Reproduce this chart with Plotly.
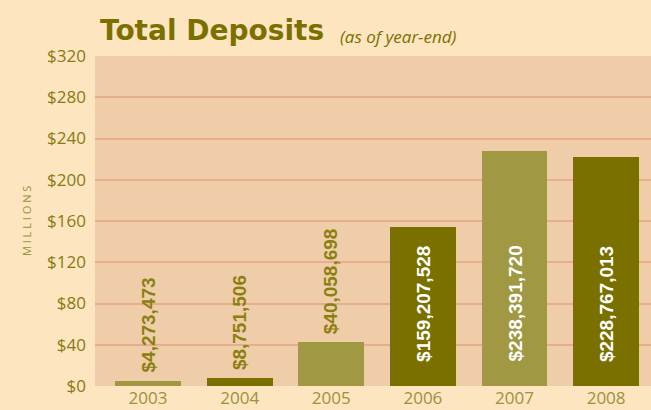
import plotly.graph_objects as go

years = ["2003", "2004", "2005", "2006", "2007", "2008"]
bar_heights = [4.9, 7.8, 42.7, 154.4, 228.0, 222.2]  # millions, as drawn
value_labels = ["$4,273,473", "$8,751,506", "$40,058,698",
                "$159,207,528", "$238,391,720", "$228,767,013"]
bar_colors = ["#A09843", "#7A7000", "#A09843", "#7A7000", "#A09843", "#7A7000"]
label_inside = [False, False, False, True, True, True]
y_ticks = [0, 40, 80, 120, 160, 200, 240, 280, 320]
y_tick_text = ["$" + str(v) for v in y_ticks]

PAPER = "#FDE5BF"
PLOT = "#F0CDA9"
GRID = "#E6AD8F"
TICK = "#857B12"
LABEL_FONT = "Liberation Sans Narrow, Arial Narrow, sans-serif"

fig = go.Figure()
fig.add_trace(go.Bar(
    x=list(range(len(years))), y=bar_heights,
    marker=dict(color=bar_colors, line=dict(width=0)),
    width=0.72, hoverinfo="skip",
))

for i, (lab, inside, h) in enumerate(zip(value_labels, label_inside, bar_heights)):
    if inside:
        fig.add_annotation(x=i, y=0, yshift=22, text=lab, textangle=-90,
                           showarrow=False, yanchor="bottom", xanchor="center",
                           font=dict(family=LABEL_FONT, size=19, color="white", weight="bold"))
    else:
        fig.add_annotation(x=i, y=h, yshift=6, text=lab, textangle=-90,
                           showarrow=False, yanchor="bottom", xanchor="center",
                           font=dict(family=LABEL_FONT, size=19, color="#8A8010", weight="bold"))

fig.add_annotation(xref="paper", yref="paper", x=-0.124, y=0.5,
                   text="M I L L I O N S",
                   textangle=-90, showarrow=False, xanchor="center", yanchor="middle",
                   font=dict(family="Open Sans, sans-serif", size=11, color="#9A9240"))

fig.add_annotation(xref="paper", yref="paper", x=0.005, y=1.076,
                   text="<b>Total Deposits</b>", showarrow=False,
                   xanchor="left", yanchor="middle",
                   font=dict(family="DejaVu Sans, sans-serif", size=28, color="#7A7000"))
fig.add_annotation(xref="paper", yref="paper", x=0.437, y=1.058,
                   text="<i>(as of year-end)</i>", showarrow=False,
                   xanchor="left", yanchor="middle",
                   font=dict(family="Open Sans, sans-serif", size=17, color="#7A7000"))

fig.update_layout(
    width=651, height=410,
    margin=dict(l=95, r=0, t=56, b=24, pad=0),
    paper_bgcolor=PAPER, plot_bgcolor=PLOT,
    showlegend=False, bargap=0,
    xaxis=dict(range=[-0.579, 5.49], tickvals=list(range(len(years))), ticktext=years,
               showgrid=False, zeroline=False, showline=False, ticks="",
               tickfont=dict(family="Open Sans, sans-serif", size=17, color="#9A9240")),
    yaxis=dict(range=[0, 320], tickvals=y_ticks, ticktext=y_tick_text,
               showgrid=True, gridcolor=GRID, gridwidth=1.5,
               zeroline=False, showline=False, ticks="", ticklabelstandoff=8,
               tickfont=dict(family="Open Sans, sans-serif", size=17, color=TICK)),
)

fig.write_html("out.html",
               config={"displayModeBar": False},
               post_script="document.body.style.margin='0';"
                           "document.body.style.background='#FDE5BF';"
                           "document.body.style.overflow='hidden';")
